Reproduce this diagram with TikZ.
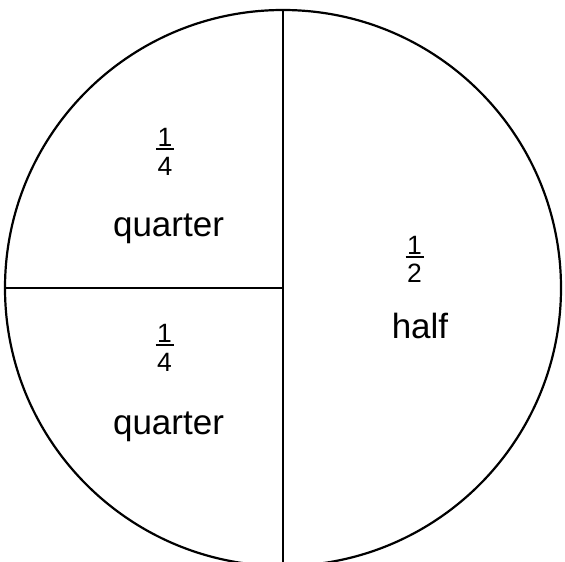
\documentclass[tikz,border=0pt]{standalone}
\usepackage{fontspec}
\setmainfont{Liberation Sans}
\tikzset{
  lbl/.style={inner sep=0pt, anchor=base, font=\fontsize{35}{40}\selectfont},
  dig/.style={inner sep=0pt, anchor=base, font=\fontsize{26.5}{30}\selectfont},
  fbar/.style={line width=1.3pt},
  edge/.style={line width=2.2pt}
}
\begin{document}
\begin{tikzpicture}[x=1pt,y=-1pt]
\useasboundingbox (0,0) rectangle (565,562);
\begin{scope}
\clip (0,0) rectangle (565,562);
\coordinate (c) at (283,288);
\coordinate (top) at (283,10);
\coordinate (bot) at (283,566);
\coordinate (lft) at (5,288);
\draw[edge] (c) circle[radius=278pt];
\draw[edge] (top) -- (bot);
\draw[edge] (lft) -- (c);
\end{scope}
% upper-left quarter
\node[dig] (n1) at (165,146) {1};
\coordinate (b1l) at (156,149);
\coordinate (b1r) at (174,149);
\draw[fbar] (b1l) -- (b1r);
\node[dig] (d1) at (165,175) {4};
\node[lbl] (q1) at (168.5,236) {quarter};
% lower-left quarter
\node[dig] (n2) at (164.5,342) {1};
\coordinate (b2l) at (155.5,345);
\coordinate (b2r) at (173.5,345);
\draw[fbar] (b2l) -- (b2r);
\node[dig] (d2) at (164.5,371) {4};
\node[lbl] (q2) at (168.5,434) {quarter};
% right half
\node[dig] (n3) at (414.5,254) {1};
\coordinate (b3l) at (405.5,257);
\coordinate (b3r) at (423.5,257);
\draw[fbar] (b3l) -- (b3r);
\node[dig] (d3) at (414.5,282) {2};
\node[lbl] (h3) at (420,338) {half};
\end{tikzpicture}
\end{document}
